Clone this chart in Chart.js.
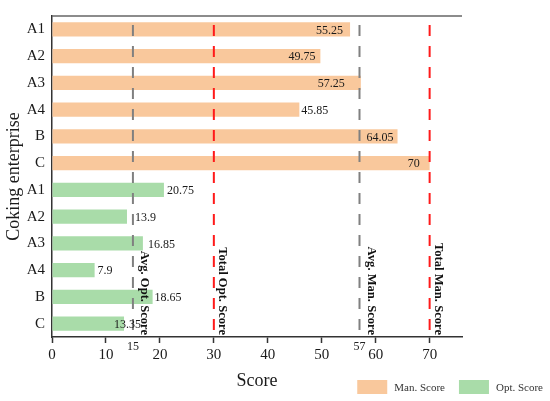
<!DOCTYPE html>
<html>
<head>
<meta charset="utf-8">
<script src="https://cdn.jsdelivr.net/npm/chart.js@4.4.1/dist/chart.umd.min.js"></script>
<style>
  html, body { margin: 0; padding: 0; background: #fff; }
  #wrap { width: 550px; height: 401px; }
</style>
</head>
<body>
<div id="wrap"><canvas id="myChart" width="550" height="401"></canvas></div>
<script>
const enterprises = ['A1', 'A2', 'A3', 'A4', 'B', 'C'];
const manScores = [55.25, 49.75, 57.25, 45.85, 64.05, 70];
const optScores = [20.75, 13.9, 16.85, 7.9, 18.65, 13.35];
const refValues = [15, 30, 57, 70];
const refLabels = ['Avg. Opt. Score', 'Total Opt. Score', 'Avg. Man. Score', 'Total Man. Score'];
const refTickLabels = ['15', '', '57', ''];
const seriesNames = ['Man. Score', 'Opt. Score'];

const SERIF = "'Liberation Serif', 'Times New Roman', serif";
const empty = enterprises.map(() => null);

// where each value label sits relative to the bar end (style only)
const manLabelPos = [
  { align: 'right', dx: -7 }, { align: 'right', dx: -5 }, { align: 'right', dx: -16 },
  { align: 'left', dx: 2 }, { align: 'right', dx: -4 }, { align: 'right', dx: -10 }
];
const optLabelPos = [
  { align: 'left', dx: 3 }, { align: 'left', dx: 8 }, { align: 'left', dx: 5 },
  { align: 'left', dx: 3 }, { align: 'left', dx: 2 }, { align: 'left', dx: -10 }
];

const refStyle = [
  { color: '#808080', textDx: 8 },
  { color: '#ff1a1a', textDx: 5 },
  { color: '#808080', textDx: 8 },
  { color: '#ff1a1a', textDx: 5 }
];

const overlay = {
  id: 'overlay',
  afterDatasetsDraw(chart) {
    const ctx = chart.ctx;
    const area = chart.chartArea;
    const x = chart.scales.x;

    // top border
    ctx.save();
    ctx.strokeStyle = '#666';
    ctx.lineWidth = 1.5;
    ctx.beginPath();
    ctx.moveTo(area.left, area.top);
    ctx.lineTo(area.right, area.top);
    ctx.stroke();
    ctx.restore();

    // reference lines
    refValues.forEach((v, i) => {
      const px = x.getPixelForValue(v);
      ctx.save();
      ctx.strokeStyle = refStyle[i].color;
      ctx.lineWidth = 2;
      ctx.setLineDash([11, 10]);
      ctx.beginPath();
      ctx.moveTo(px, area.top + 9);
      ctx.lineTo(px, area.bottom);
      ctx.stroke();
      ctx.restore();

      ctx.save();
      ctx.translate(px + refStyle[i].textDx, area.bottom - 2);
      ctx.rotate(Math.PI / 2);
      ctx.font = 'bold 12.6px ' + SERIF;
      ctx.fillStyle = '#111';
      ctx.textAlign = 'right';
      ctx.textBaseline = 'alphabetic';
      ctx.fillText(refLabels[i], 0, 0);
      ctx.restore();

      if (refTickLabels[i]) {
        ctx.save();
        ctx.font = '12px ' + SERIF;
        ctx.fillStyle = '#222';
        ctx.textAlign = 'center';
        ctx.textBaseline = 'middle';
        ctx.fillText(refTickLabels[i], px, area.bottom + 10);
        ctx.restore();
      }
    });

    // value labels
    const sets = [manLabelPos, optLabelPos];
    chart.data.datasets.forEach((ds, di) => {
      const meta = chart.getDatasetMeta(di);
      let k = 0;
      meta.data.forEach((bar, idx) => {
        const val = ds.data[idx];
        if (val === null || val === undefined) return;
        const pos = sets[di][k++];
        ctx.save();
        ctx.font = '12px ' + SERIF;
        ctx.fillStyle = '#1a1a1a';
        ctx.textAlign = pos.align;
        ctx.textBaseline = 'middle';
        ctx.fillText(String(val), bar.x + pos.dx, bar.y + 1);
        ctx.restore();
      });
    });

    // legend, right aligned under the plot
    ctx.save();
    ctx.font = '11px ' + SERIF;
    const boxW = 30, boxH = 14, gap = 7, itemGap = 14;
    const widths = chart.data.datasets.map(ds => ctx.measureText(ds.label).width);
    let total = 0;
    widths.forEach((w, i) => { total += boxW + gap + w + (i ? itemGap : 0); });
    let lx = chart.width - 7 - total;
    const ly = chart.height - 21;
    chart.data.datasets.forEach((ds, i) => {
      ctx.fillStyle = ds.backgroundColor;
      ctx.fillRect(lx, ly, boxW, boxH);
      ctx.fillStyle = '#333';
      ctx.textAlign = 'left';
      ctx.textBaseline = 'middle';
      ctx.fillText(ds.label, lx + boxW + gap, ly + boxH / 2 + 1);
      lx += boxW + gap + widths[i] + itemGap;
    });
    ctx.restore();
  }
};

const ctx = document.getElementById('myChart').getContext('2d');

const myChart = new Chart(ctx, {
  type: 'bar',
  data: {
    labels: enterprises.concat(enterprises),
    datasets: [{
      label: seriesNames[0],
      data: manScores.concat(empty),
      backgroundColor: '#f9c89c'
    }, {
      label: seriesNames[1],
      data: empty.concat(optScores),
      backgroundColor: '#a9dca9'
    }]
  },
  options: {
    responsive: false,
    animation: false,
    indexAxis: 'y',
    grouped: false,
    barPercentage: 0.53,
    categoryPercentage: 1,
    layout: { padding: { top: 7, right: 88, left: 0, bottom: 0 } },
    plugins: {
      legend: { display: false },
      tooltip: { enabled: false }
    },
    scales: {
      x: {
        type: 'linear',
        min: 0,
        max: 76,
        afterFit: (s) => { s.height = 64; },
        ticks: {
          stepSize: 10,
          includeBounds: false,
          font: { family: SERIF, size: 15 },
          color: '#1a1a1a',
          padding: 3
        },
        grid: {
          drawOnChartArea: false,
          drawTicks: true,
          tickLength: 6,
          color: '#333',
          tickWidth: 1.5
        },
        border: { display: true, color: '#333', width: 1.5 },
        title: {
          display: true,
          text: 'Score',
          font: { family: SERIF, size: 18 },
          color: '#1a1a1a',
          padding: { top: 4, bottom: 9 }
        }
      },
      y: {
        type: 'category',
        afterFit: (s) => { s.width = 52; },
        ticks: {
          font: { family: SERIF, size: 15 },
          color: '#1a1a1a',
          padding: 7
        },
        grid: { display: false, drawTicks: false },
        border: { display: true, color: '#333', width: 1.5 },
        title: {
          display: true,
          text: 'Coking enterprise',
          font: { family: SERIF, size: 18 },
          color: '#1a1a1a',
          padding: { top: 3, bottom: 0 }
        }
      }
    }
  },
  plugins: [overlay]
});
</script>
</body>
</html>
